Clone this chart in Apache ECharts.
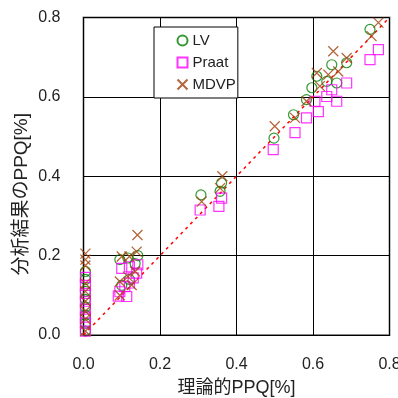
<!DOCTYPE html>
<html>
<head>
<meta charset="utf-8">
<script src="https://cdn.jsdelivr.net/npm/echarts@6/dist/echarts.min.js"></script>
<style>
  html, body { margin: 0; padding: 0; background: #fff; }
  #chart { width: 398px; height: 398px; }
</style>
</head>
<body>
<div id="chart"></div>
<script>
// 軸の目盛
const ticks = [0, 0.2, 0.4, 0.6, 0.8];

// LV（○）
const lvData = [
  [0.005, 0.16], [0.005, 0.14], [0.005, 0.11], [0.005, 0.09], [0.005, 0.07], [0.005, 0.05], [0.005, 0.03], [0.005, 0.01],
  [0.095, 0.19], [0.116, 0.194], [0.142, 0.2], [0.135, 0.18], [0.12, 0.14], [0.1, 0.125],
  [0.307, 0.353], [0.361, 0.383], [0.357, 0.362],
  [0.498, 0.496], [0.549, 0.555], [0.583, 0.593], [0.597, 0.623], [0.61, 0.652], [0.636, 0.639],
  [0.649, 0.681], [0.662, 0.635], [0.688, 0.686], [0.749, 0.77], [0.771, 0.803]
];

// Praat（□）
const praatData = [
  [0.005, 0.145], [0.005, 0.125], [0.005, 0.105], [0.005, 0.085], [0.005, 0.065], [0.005, 0.045], [0.005, 0.03], [0.005, 0.01],
  [0.1, 0.168], [0.12, 0.172], [0.142, 0.177], [0.139, 0.156], [0.13, 0.144], [0.12, 0.131], [0.108, 0.122],
  [0.095, 0.109], [0.113, 0.097], [0.091, 0.098],
  [0.305, 0.315], [0.361, 0.345], [0.354, 0.324],
  [0.496, 0.467], [0.553, 0.51], [0.583, 0.547], [0.605, 0.589], [0.614, 0.563], [0.636, 0.601],
  [0.649, 0.618], [0.662, 0.589], [0.688, 0.635], [0.749, 0.694], [0.771, 0.719]
];

// MDVP（×）
const mdvpData = [
  [0.005, 0.205], [0.005, 0.19], [0.005, 0.175], [0.005, 0.13], [0.005, 0.11], [0.005, 0.085], [0.005, 0.06], [0.005, 0.04], [0.005, 0.01],
  [0.141, 0.252], [0.139, 0.21], [0.1, 0.198], [0.12, 0.198], [0.095, 0.135], [0.116, 0.147], [0.135, 0.16],
  [0.095, 0.1], [0.126, 0.126],
  [0.309, 0.336], [0.363, 0.4], [0.357, 0.37],
  [0.5, 0.526], [0.553, 0.547], [0.583, 0.589], [0.618, 0.627], [0.61, 0.66], [0.64, 0.656],
  [0.653, 0.715], [0.666, 0.664], [0.688, 0.698], [0.753, 0.753], [0.771, 0.787]
];

// y = x の基準線
const diagonal = [[0, 0], [0.8, 0.8]];

const font = '"Liberation Sans", "Noto Sans CJK JP", sans-serif';
const chart = echarts.init(document.getElementById('chart'));

const axisCommon = {
  type: 'value',
  min: ticks[0],
  max: ticks[ticks.length - 1],
  interval: 0.2,
  nameLocation: 'middle',
  nameMoveOverlap: false,
  axisLine: { show: true, lineStyle: { color: '#000', width: 1 } },
  axisTick: { show: false },
  splitLine: { show: true, lineStyle: { color: '#000', width: 1 } },
  axisLabel: {
    color: '#222',
    fontSize: 16,
    fontFamily: font,
    formatter: v => v.toFixed(1)
  }
};

const option = {
  backgroundColor: '#fff',
  animation: false,
  grid: {
    left: 83.5,
    right: 8.5,
    top: 17.5,
    bottom: 63,
    outerBoundsMode: 'none',
    show: true,
    borderColor: '#888',
    borderWidth: 2,
    backgroundColor: '#fff'
  },
  legend: {
    orient: 'vertical',
    left: 154,
    top: 27,
    padding: [6, 2, 6, 21],
    itemGap: 7,
    itemWidth: 10,
    itemHeight: 10,
    backgroundColor: '#fff',
    borderColor: '#000',
    borderWidth: 1,
    borderRadius: 0,
    textStyle: { color: '#222', fontSize: 15, fontFamily: font },
    data: ['LV', 'Praat', 'MDVP']
  },
  xAxis: Object.assign({}, axisCommon, {
    name: '理論的PPQ[%]',
    nameGap: 44,
    nameTextStyle: { color: '#222', fontSize: 18, fontFamily: font },
    axisLabel: Object.assign({}, axisCommon.axisLabel, { margin: 22 })
  }),
  yAxis: Object.assign({}, axisCommon, {
    name: '分析結果のPPQ[%]',
    nameGap: 52,
    nameTextStyle: { color: '#222', fontSize: 19, fontFamily: font, padding: [0, 36, 0, 0] },
    axisLabel: Object.assign({}, axisCommon.axisLabel, { margin: 23 })
  }),
  series: [
    {
      name: '基準線',
      type: 'line',
      data: diagonal,
      symbol: 'none',
      silent: true,
      z: 1,
      lineStyle: { color: '#ff0000', width: 1.5, type: [3, 4] }
    },
    {
      name: 'LV',
      type: 'scatter',
      data: lvData,
      symbol: 'circle',
      symbolSize: 10,
      itemStyle: { color: 'none', borderColor: '#008000', borderWidth: 1.2 }
    },
    {
      name: 'Praat',
      type: 'scatter',
      data: praatData,
      symbol: 'rect',
      symbolSize: 10,
      itemStyle: { color: 'none', borderColor: '#ff00ff', borderWidth: 1.2 }
    },
    {
      name: 'MDVP',
      type: 'scatter',
      data: mdvpData,
      symbol: 'path://M0,0L10,10M10,0L0,10',
      symbolSize: 10,
      itemStyle: { color: 'none', borderColor: '#a0400a', borderWidth: 1.3 }
    }
  ]
};

chart.setOption(option);
</script>
</body>
</html>
